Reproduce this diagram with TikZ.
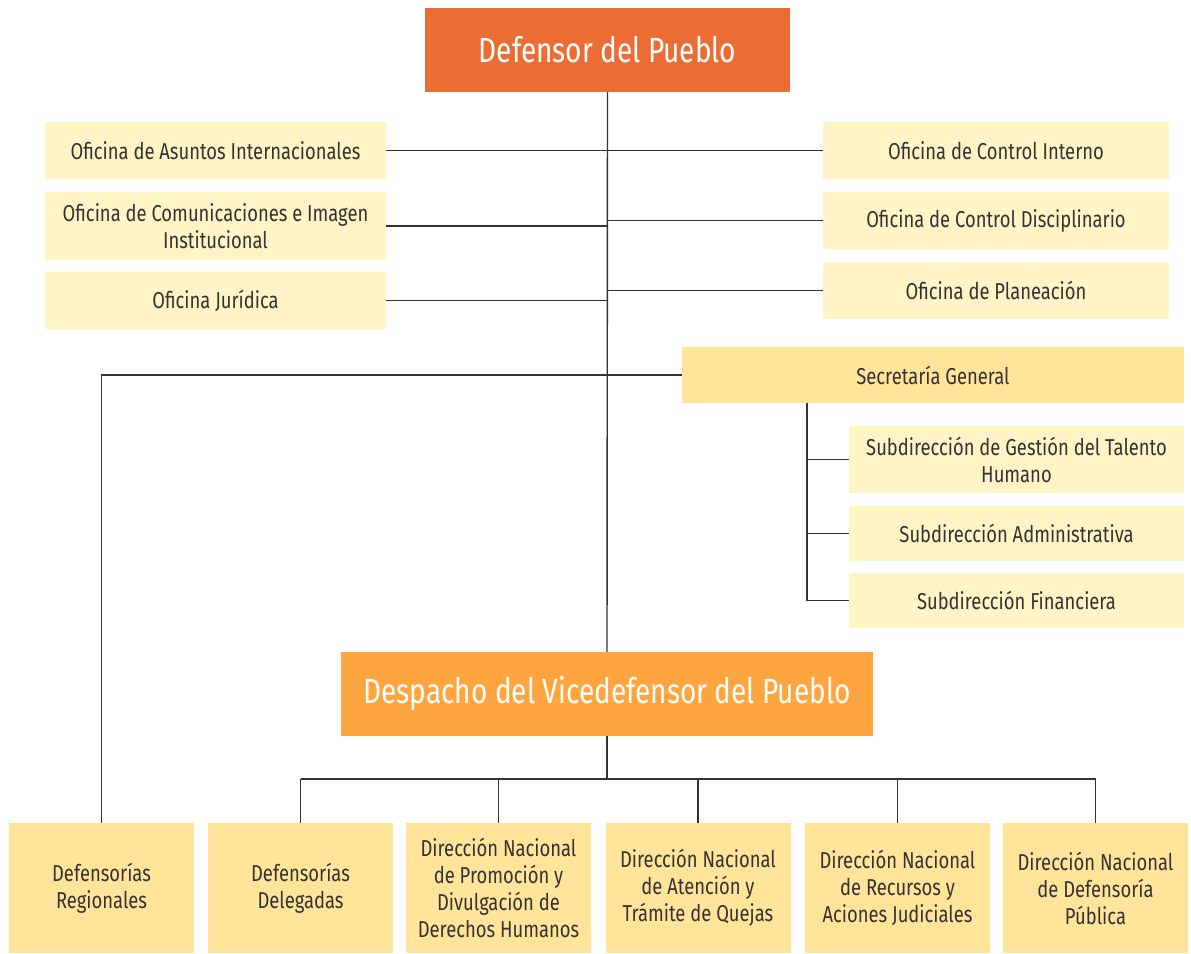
\documentclass[tikz,border=0pt]{standalone}
\usepackage{fontspec}
\setmainfont{Fira Sans}[FakeStretch=0.8]
\definecolor{topOrange}{HTML}{EB6D33}
\definecolor{viceOrange}{HTML}{FFA540}
\definecolor{paleYellow}{HTML}{FFF4C6}
\definecolor{goldYellow}{HTML}{FFE49A}
\definecolor{inkGrey}{HTML}{333333}

\begin{document}
\begin{tikzpicture}[x=1pt,y=-1pt,
    unit/.style={fill=paleYellow, text=inkGrey, align=center, inner sep=0pt,
      font=\fontsize{23}{27}\selectfont},
    goldunit/.style={unit, fill=goldYellow},
    head/.style={text=white, align=center, inner sep=0pt,
      font=\fontsize{35}{42}\selectfont},
    link/.style={draw=inkGrey, line width=1.4pt}]
      \useasboundingbox (0,0) rectangle (1191,953);
      % top levels
      \node[head, fill=topOrange, minimum width=365, minimum height=84] (defensor) at (607.5,50) {Defensor del Pueblo};
      \node[head, fill=viceOrange, minimum width=532, minimum height=84] (despacho) at (607,694) {Despacho del Vicedefensor del Pueblo};
      % offices left
      \node[unit, minimum width=341, minimum height=57] (asuntos) at (215.5,150.5) {Oficina de Asuntos Internacionales};
      \node[unit, minimum width=341, minimum height=68] (imagen) at (215.5,226) {Oficina de Comunicaciones e Imagen\\Institucional};
      \node[unit, minimum width=341, minimum height=57] (juridica) at (215.5,300.5) {Oficina Jurídica};
      % offices right
      \node[unit, minimum width=346, minimum height=57] (interno) at (996,150.5) {Oficina de Control Interno};
      \node[unit, minimum width=346, minimum height=57] (disciplinario) at (996,220.5) {Oficina de Control Disciplinario};
      \node[unit, minimum width=346, minimum height=57] (planeacion) at (996,290.5) {Oficina de Planeación};
      % secretaria
      \node[goldunit, minimum width=502, minimum height=56] (secretaria) at (933,375) {Secretaría General};
      \node[unit, minimum width=335, minimum height=67] (talento) at (1016.5,459.5) {Subdirección de Gestión del Talento\\Humano};
      \node[unit, minimum width=335, minimum height=55] (administrativa) at (1016.5,533.5) {Subdirección Administrativa};
      \node[unit, minimum width=335, minimum height=55] (financiera) at (1016.5,600.5) {Subdirección Financiera};
      % bottom row
      \node[goldunit, minimum width=185, minimum height=130] (regionales) at (101.5,888) {Defensorías\\Regionales};
      \node[goldunit, minimum width=185, minimum height=130] (delegadas) at (300.5,888) {Defensorías\\Delegadas};
      \node[goldunit, minimum width=185, minimum height=130] (promocion) at (498.5,888) {Dirección Nacional\\de Promoción y\\Divulgación de\\Derechos Humanos};
      \node[goldunit, minimum width=185, minimum height=130] (quejas) at (698,888) {Dirección Nacional\\de Atención y\\Trámite de Quejas};
      \node[goldunit, minimum width=185, minimum height=130] (recursos) at (897.5,888) {Dirección Nacional\\de Recursos y\\Aciones Judiciales};
      \node[goldunit, minimum width=185, minimum height=130] (publica) at (1095.5,888) {Dirección Nacional\\de Defensoría\\Pública};
      \coordinate (sgbus) at (807,403);
      \coordinate (bus) at (607,779);
      % connectors
      \draw[link] (defensor.south) -- (despacho.north);
      \foreach \o in {asuntos,imagen,juridica}
        \draw[link] (\o.east) -- (\o.east -| defensor.south);
      \foreach \o in {interno,disciplinario,planeacion}
        \draw[link] (\o.west) -- (\o.west -| defensor.south);
      \draw[link] (secretaria.west) -| (regionales.north);
      \foreach \o in {talento,administrativa}
        \draw[link] (\o.west) -- (\o.west -| sgbus);
      \draw[link] (sgbus) |- (financiera.west);
      \draw[link] (despacho.south) -- (bus);
      \draw[link] (delegadas.north |- bus) -- (publica.north |- bus);
      \foreach \o in {delegadas,promocion,quejas,recursos,publica}
        \draw[link] (\o.north) -- (\o.north |- bus);
\end{tikzpicture}
\end{document}
